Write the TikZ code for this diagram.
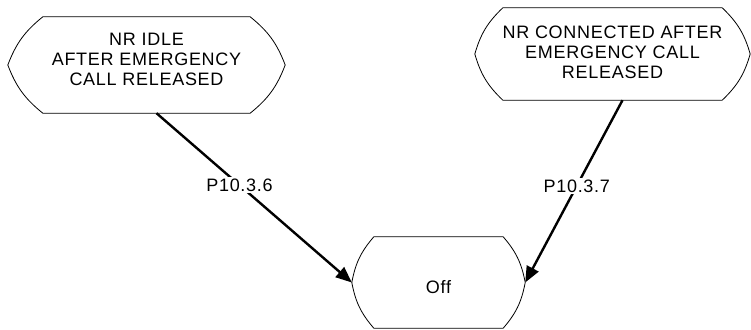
\documentclass[tikz,border=0pt]{standalone}
\usepackage{fontspec}
\usepackage{tikz}
\usetikzlibrary{arrows.meta,positioning,calc}
\newfontfamily\diagfont{Liberation Sans}[LetterSpace=4]
\newcommand{\statefont}{\diagfont\fontsize{18}{20}\selectfont}
% outline of a state: straight top and bottom, bent sides
\newcommand{\stateoutline}[2]{%
  \draw[stateline] ([xshift=-#2]#1.north east) -- ([xshift=#2]#1.north west)
    to[bend right=15] (#1.west) to[bend right=15] ([xshift=#2]#1.south west)
    -- ([xshift=-#2]#1.south east) to[bend right=15] (#1.east)
    to[bend right=15] ([xshift=-#2]#1.north east) -- cycle;}

\begin{document}
\begin{tikzpicture}[
    x=1pt, y=1pt,
    state/.style={inner sep=0pt, align=center, font=\statefont},
    stateline/.style={draw=black, line width=0.8pt, line join=round},
    flow/.style={line width=2.4pt, -{Triangle[length=16pt,width=13pt]}},
    lbl/.style={fill=white, inner sep=1.5pt, font=\statefont},
  ]
  \useasboundingbox (0,0) rectangle (751,329);

  % States
  \node[state, minimum width=277pt, minimum height=96pt, text depth=11pt] (idle) at (146.5,264)
    {NR IDLE\\AFTER EMERGENCY\\CALL RELEASED};
  \node[state, minimum width=275pt, minimum height=92pt, text depth=3pt] (connected) at (612.5,275)
    {NR CONNECTED AFTER\\EMERGENCY CALL\\RELEASED};
  \node[state, minimum width=173pt, minimum height=91pt, text height=23pt] (off) at (438.5,46.5)
    {Off};

  \stateoutline{idle}{35pt}
  \stateoutline{connected}{28pt}
  \stateoutline{off}{22pt}

  % Transitions
  \draw[flow] ([xshift=10pt]idle.south) -- node[lbl, pos=0.425] {P10.3.6} (off.west);
  \draw[flow] ([xshift=10pt]connected.south) -- node[lbl, pos=0.47] {P10.3.7} (off.east);

\end{tikzpicture}
\end{document}
